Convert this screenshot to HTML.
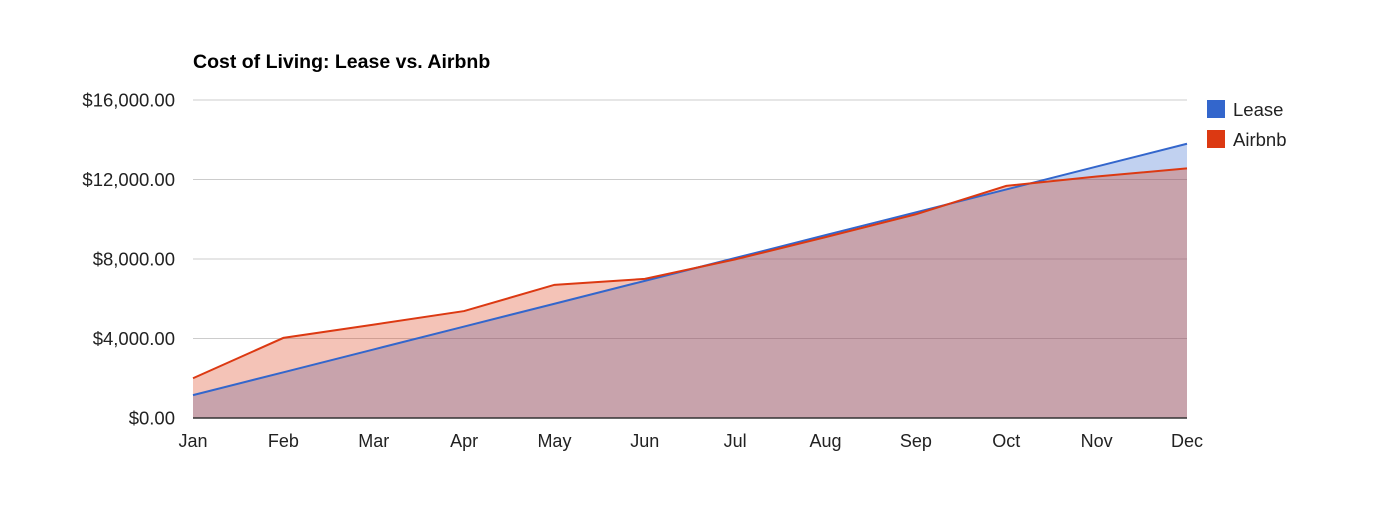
<!DOCTYPE html>
<html><head><meta charset="utf-8"><style>
body{margin:0;background:#fff;}
svg{display:block;font-family:"Liberation Sans",Arial,sans-serif;}
</style></head><body>
<svg id="chart" width="1380" height="517" viewBox="0 0 1380 517" xmlns="http://www.w3.org/2000/svg">
<rect width="1380" height="517" fill="#fff"/>
<text x="193" y="68" font-size="19.5" font-weight="bold" fill="#000">Cost of Living: Lease vs. Airbnb</text>
<g id="grid"></g><g id="areas"></g><g id="lines"></g><g id="axes"></g>
<g>
<rect x="1207" y="100" width="18" height="18" fill="#3366cc"/>
<text x="1233" y="116" font-size="18.5" fill="#222">Lease</text>
<rect x="1207" y="130" width="18" height="18" fill="#dc3912"/>
<text x="1233" y="146" font-size="18.5" fill="#222">Airbnb</text>
</g>
</svg>
<script>
const months=["Jan","Feb","Mar","Apr","May","Jun","Jul","Aug","Sep","Oct","Nov","Dec"];
const lease=[1150,2300,3450,4600,5750,6900,8050,9200,10350,11500,12650,13800];
const airbnb=[2000,4030,4700,5380,6700,7000,7980,9100,10250,11680,12150,12560];
const yTicks=[0,4000,8000,12000,16000];
const yTickLabels=["$0.00","$4,000.00","$8,000.00","$12,000.00","$16,000.00"];
const NS="http://www.w3.org/2000/svg";
const x0=193,x1=1187,yB=418,yT=100,yMax=16000;
const xs=i=>x0+(x1-x0)*i/(months.length-1);
const ys=v=>yB-(yB-yT)*v/yMax;
function mk(tag,attrs,parent){const e=document.createElementNS(NS,tag);for(const k in attrs)e.setAttribute(k,attrs[k]);document.getElementById(parent).appendChild(e);return e;}
yTicks.forEach((t,i)=>{
 if(t>0){const g=mk('line',{x1:x0,x2:x1,y1:ys(t),y2:ys(t),stroke:'#ccc','stroke-width':1},'grid');
 
 }
 const l=mk('text',{x:175,y:ys(t)+6.5,'text-anchor':'end','font-size':18.5,fill:'#222'},'axes');
 l.textContent=yTickLabels[i];
 
 
});
months.forEach((m,i)=>{
 const l=mk('text',{x:xs(i),y:447,'text-anchor':'middle','font-size':18,fill:'#222'},'axes');
 l.textContent=m;
 
 
});
function series(vals,color,name){
 const pts=vals.map((v,i)=>xs(i)+','+ys(v)).join(' ');
 const a=mk('polygon',{points:x0+','+yB+' '+pts+' '+x1+','+yB,fill:color,'fill-opacity':0.3},'areas');
 
 
 const l=mk('polyline',{points:pts,fill:'none',stroke:color,'stroke-width':2},'lines');
 
 
}
series(lease,'#3366cc','lease');
series(airbnb,'#dc3912','airbnb');
const ax=mk('line',{x1:x0,x2:x1,y1:yB,y2:yB,stroke:'#333','stroke-width':1.5},'axes');


</script>
</body></html>
